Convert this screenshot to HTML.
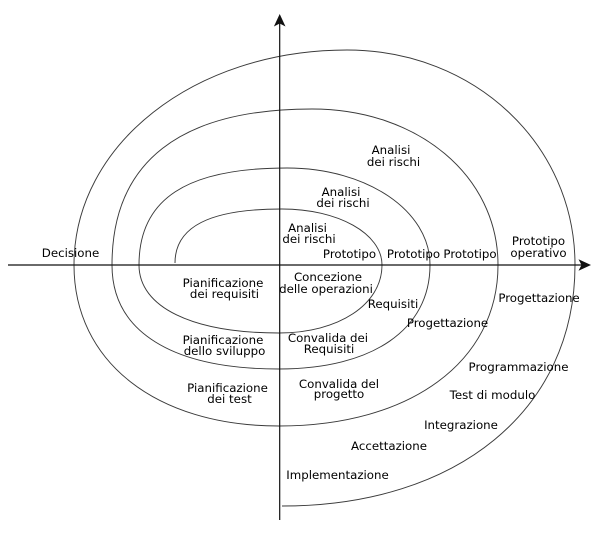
<!DOCTYPE html>
<html>
<head>
<meta charset="utf-8">
<style>
  html, body { margin: 0; padding: 0; background: #ffffff; }
  body { width: 600px; height: 541px; overflow: hidden; }
  svg { display: block; }
  text { font-family: "DejaVu Sans", "Liberation Sans", sans-serif; font-size: 11.8px; fill: #000; }
</style>
</head>
<body>
<svg width="600" height="541" viewBox="0 0 600 541" xmlns="http://www.w3.org/2000/svg">
  <rect x="0" y="0" width="600" height="541" fill="#ffffff"/>

  <!-- spiral -->
  <g fill="none" stroke="#3a3a3a" stroke-width="0.95">
    <!-- upper A -->
    <path d="M175,263 C175,227 209,209 282,209 C338,209 382,233.6 382,265"/>
    <!-- lower 1 -->
    <path d="M382,265 C382,304.4 338.7,333 279,333 C192.2,333 139,307.2 139,265"/>
    <!-- upper B -->
    <path d="M139,265 C139,199 186.4,168 287,168 C367,168 430,210.7 430,265"/>
    <!-- lower 2 -->
    <path d="M430,265 C430,329.5 372.6,369 279,369 C172.1,369 112,331.6 112,265"/>
    <!-- upper C -->
    <path d="M112,265 C112,162 180,109 312,109 C418,109 498,176.1 498,265"/>
    <!-- lower 3 -->
    <path d="M498,265 C498,361.6 410.4,426 279,426 C156,426 74,361.6 74,265"/>
    <!-- upper D -->
    <path d="M74,265 C74,144.6 194.1,50 347,50 C474.7,50 575,144.6 575,265"/>
    <!-- lower 4 -->
    <path d="M575,265 C575,409.6 457.8,506 282,506"/>
  </g>

  <!-- axes -->
  <g stroke="#111" stroke-width="1.2" fill="none">
    <line x1="8" y1="265" x2="584" y2="265"/>
    <line x1="279.7" y1="21" x2="279.7" y2="520"/>
  </g>
  <path d="M279.7,14 L285.5,26.5 L279.7,23.5 L273.9,26.5 Z" fill="#111"/>
  <path d="M591,265 L578.5,259.2 L581.5,265 L578.5,270.8 Z" fill="#111"/>

  <!-- labels -->
  <g text-anchor="middle">
    <text x="70.5" y="257">Decisione</text>

    <text x="307.5" y="232">Analisi</text>
    <text x="309" y="243">dei rischi</text>

    <text x="341" y="196">Analisi</text>
    <text x="343" y="207">dei rischi</text>

    <text x="391" y="154">Analisi</text>
    <text x="393.5" y="166">dei rischi</text>

    <text x="349.5" y="258">Prototipo</text>
    <text x="413.5" y="258">Prototipo</text>
    <text x="470" y="258">Prototipo</text>

    <text x="538.5" y="245">Prototipo</text>
    <text x="538.5" y="257">operativo</text>

    <text x="328" y="281">Concezione</text>
    <text x="326" y="293">delle operazioni</text>

    <text x="393" y="308">Requisiti</text>
    <text x="447.5" y="327">Progettazione</text>
    <text x="539" y="302">Progettazione</text>

    <text x="328" y="342">Convalida dei</text>
    <text x="329" y="353">Requisiti</text>

    <text x="339" y="388">Convalida del</text>
    <text x="339" y="398">progetto</text>

    <text x="518.5" y="371">Programmazione</text>
    <text x="492.5" y="399">Test di modulo</text>
    <text x="461" y="429">Integrazione</text>
    <text x="389" y="450">Accettazione</text>
    <text x="337.5" y="479">Implementazione</text>

    <text x="223" y="287">Pianificazione</text>
    <text x="224.5" y="298">dei requisiti</text>

    <text x="223" y="344">Pianificazione</text>
    <text x="224.5" y="355">dello sviluppo</text>

    <text x="227.5" y="392">Pianificazione</text>
    <text x="229.5" y="403">dei test</text>
  </g>
</svg>
</body>
</html>
